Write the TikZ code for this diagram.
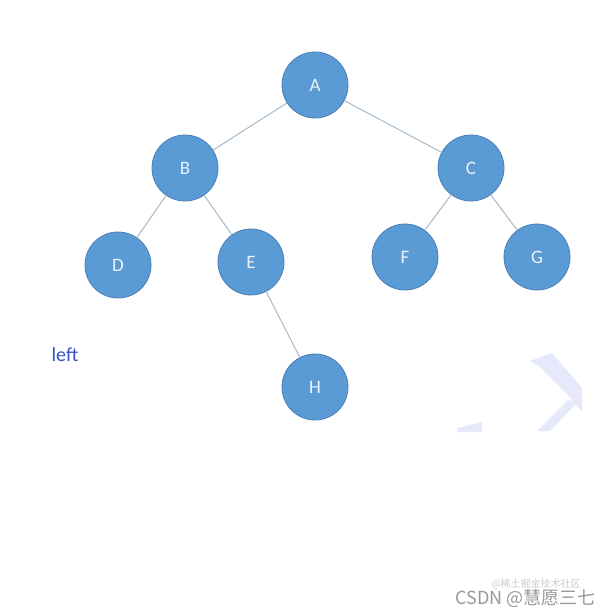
\documentclass[tikz,border=0pt]{standalone}
\usepackage{fontspec}
\setmainfont{Carlito}
\newfontfamily\cjk{Noto Sans CJK SC}
\definecolor{nodefill}{HTML}{5B9BD5}
\definecolor{nodedraw}{HTML}{4A7FB5}
\definecolor{nodetext}{HTML}{EAF2FB}
\definecolor{edgecol}{HTML}{A5BACB}
\definecolor{leftcol}{HTML}{3552C6}
\definecolor{markcol}{HTML}{E6E9FB}
\begin{document}
\begin{tikzpicture}[x=1pt,y=-1pt,
  treenode/.style={circle,fill=nodefill,draw=nodedraw,line width=0.8pt,minimum size=66pt,inner sep=0pt,text=nodetext,font=\fontsize{19}{22}\selectfont},
  treeedge/.style={draw=edgecol,line width=1pt}]
\useasboundingbox[fill=white] (0,0) rectangle (610,614);
% faded mark
\fill[markcol] (530,361) -- (552,353) -- (582,388) -- (582,412) -- (568,395) -- (540,367) -- cycle;
\fill[markcol] (577,403) -- (550,431) -- (537,431) -- (568,400) -- cycle;
\fill[markcol] (457,428) -- (482,422) -- (482,432) -- (458,432) -- cycle;
% nodes
\node[treenode] (A) at (315,85) {A};
\node[treenode] (B) at (185,168) {B};
\node[treenode] (C) at (471,168) {C};
\node[treenode] (D) at (118,265) {D};
\node[treenode] (E) at (251,262) {E};
\node[treenode] (F) at (405,257) {F};
\node[treenode] (G) at (537,257) {G};
\node[treenode] (H) at (315,387) {H};
% edges
\draw[treeedge] (A) -- (B);
\draw[treeedge] (A) -- (C);
\draw[treeedge] (B) -- (D);
\draw[treeedge] (B) -- (E);
\draw[treeedge] (C) -- (F);
\draw[treeedge] (C) -- (G);
\draw[treeedge] (E) -- (H);
% label
\node[text=leftcol,font=\fontsize{20}{24}\selectfont,inner sep=0pt] (lbl) at (65,355) {left};
% watermark
\node[text=gray!40,font=\cjk\fontsize{10}{12}\selectfont,inner sep=0pt] (wm2) at (536,584) {@稀土掘金技术社区};
\node[text=gray!80,font=\cjk\fontsize{18}{21}\selectfont,inner sep=0pt,anchor=east] (wm1) at (596,598) {CSDN @慧愿三七};
\end{tikzpicture}
\end{document}
